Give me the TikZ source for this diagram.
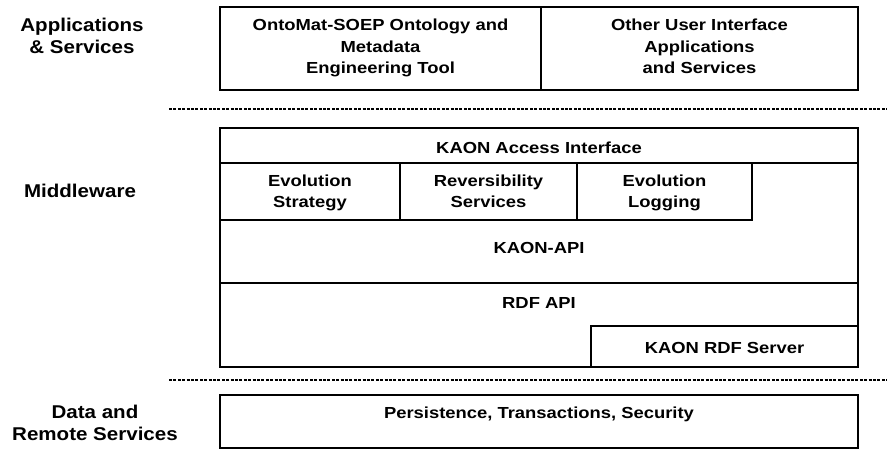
\documentclass[tikz,border=0pt]{standalone}
\usepackage{fontspec}
\newfontfamily\boxfont{Liberation Sans}[FakeStretch=1.15]
\newfontfamily\labfont{Liberation Sans}[FakeStretch=1.11]
\begin{document}
\begin{tikzpicture}[x=1pt,y=-1pt,
  frame/.style={draw=black,line width=1.7pt},
  txt/.style={font=\boxfont\bfseries\fontsize{16}{21.3}\selectfont,align=center,inner sep=0pt},
  lab/.style={font=\labfont\bfseries\fontsize{18.5}{21.5}\selectfont,align=center,inner sep=0pt},
  dotline/.style={line width=2pt,dash pattern=on 3pt off 1.4pt}]
\useasboundingbox (0,0) rectangle (887,450);
% top boxes
\draw[frame] (220,7) rectangle (858,90);
\draw[frame] (541,7) -- (541,90);
\node[txt] (onto) at (380.5,48) {\strut OntoMat-SOEP Ontology and\\Metadata\\Engineering Tool\strut};
\node[txt] (other) at (699.5,48) {\strut Other User Interface\\Applications\\and Services\strut};
% separators
\coordinate (s1a) at (169,109); \coordinate (s1b) at (887,109);
\coordinate (s2a) at (169,380); \coordinate (s2b) at (887,380);
\draw[dotline] (s1a) -- (s1b);
\draw[dotline] (s2a) -- (s2b);
% middleware
\draw[frame] (220,128) rectangle (858,367);
\draw[frame] (220,163) -- (858,163);
\draw[frame] (220,220) -- (752,220) -- (752,163);
\draw[frame] (400,163) -- (400,220);
\draw[frame] (577,163) -- (577,220);
\draw[frame] (220,283) -- (858,283);
\draw[frame] (591,367) -- (591,326) -- (858,326);
\node[txt] (access) at (539,149) {\strut KAON Access Interface};
\node[txt] (evs) at (310,193) {\strut Evolution\\Strategy\strut};
\node[txt] (rev) at (488.5,193) {\strut Reversibility\\Services\strut};
\node[txt] (evl) at (664.5,193) {\strut Evolution\\Logging\strut};
\node[txt] (kapi) at (539,249) {\strut KAON-API};
\node[txt] (rdf) at (539,304) {\strut RDF API};
\node[txt] (srv) at (724.5,349) {\strut KAON RDF Server};
% data
\draw[frame] (220,395) rectangle (858,448);
\node[txt] (pers) at (539,414) {\strut Persistence, Transactions, Security};
% layer labels
\node[lab] (apps) at (82,38) {\strut Applications\\\& Services\strut};
\node[lab] (mid) at (80,193) {\strut Middleware};
\node[lab] (data) at (95,425) {\strut Data and\\Remote Services\strut};
\end{tikzpicture}
\end{document}
